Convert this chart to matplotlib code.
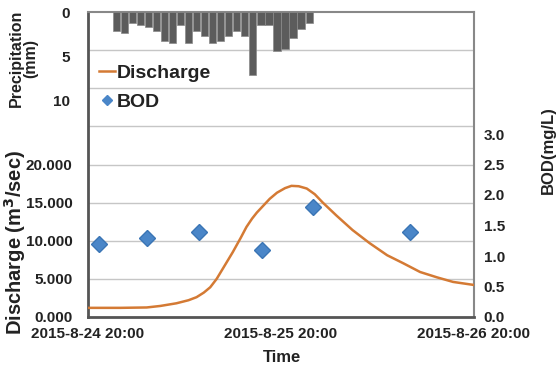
import matplotlib
matplotlib.use("Agg")
import matplotlib.pyplot as plt
from matplotlib.lines import Line2D

plt.rcParams['font.family'] = ['Liberation Sans', 'DejaVu Sans']

# ---- data ----
x_tick_hours = [0, 24, 48]
x_tick_labels = ["2015-8-24 20:00", "2015-8-25 20:00", "2015-8-26 20:00"]

discharge_t = [0, 4, 7.3, 9, 11, 12.5, 13.5, 14.4, 15.2, 16, 16.8, 18, 19, 19.7, 20.4,
               21, 21.8, 22.6, 23.5, 24.5, 25.3, 26.2, 27.2, 28.2, 29.2, 30.9, 32.9,
               35, 37.2, 39.2, 41.3, 43.4, 45.4, 48]
discharge_v = [1200, 1200, 1250, 1450, 1800, 2200, 2600, 3200, 3900, 5000, 6400, 8500,
               10400, 11800, 12900, 13700, 14600, 15500, 16300, 16900, 17200, 17150,
               16850, 16100, 15000, 13300, 11400, 9700, 8100, 7050, 5900, 5200, 4600,
               4200]

bod_t = [1.4, 7.3, 13.8, 21.6, 28.0, 40.0]
bod_v = [1.20, 1.29, 1.39, 1.10, 1.80, 1.39]

precip_t = list(range(3, 28))
precip_v = [2.2, 2.4, 1.2, 1.5, 1.7, 2.1, 3.3, 3.5, 1.5, 3.5, 2.1, 2.7, 3.5,
            3.3, 2.7, 2.1, 2.7, 7.1, 1.5, 1.5, 4.4, 4.2, 2.9, 1.9, 1.2]

q_ticks = [0, 5000, 10000, 15000, 20000]
q_labels = ["0.000", "5.000", "10.000", "15.000", "20.000"]
grid_levels = [5000, 10000, 15000, 20000, 25000, 30000, 35000]
bod_ticks = [0.0, 0.5, 1.0, 1.5, 2.0, 2.5, 3.0]
p_ticks = [0, 5, 10]

# ---- figure ----
W, H = 558, 373
fig = plt.figure(figsize=(W / 100, H / 100), dpi=100)
L, R, T, B = 88, 474, 12, 317
ax = fig.add_axes([L / W, 1 - B / H, (R - L) / W, (B - T) / H])

ax.set_xlim(0, 48)
ax.set_ylim(0, 40000)
ax.set_yticks(q_ticks)
ax.set_yticklabels(q_labels)
ax.set_xticks(x_tick_hours)
ax.set_xticklabels(x_tick_labels)
ax.tick_params(axis='both', which='both', length=0, labelsize=11, colors='#222222')
ax.tick_params(axis='x', pad=7)
ax.tick_params(axis='y', pad=11)
for lab in ax.get_xticklabels() + ax.get_yticklabels():
    lab.set_fontweight('bold')

for side in ['left', 'bottom']:
    ax.spines[side].set_color('#555555')
    ax.spines[side].set_linewidth(2)
for side in ['top', 'right']:
    ax.spines[side].set_color('#888888')
    ax.spines[side].set_linewidth(1.5)

for g in grid_levels:
    gl = ax.axhline(g, color='#c6c6c6', linewidth=1.0, zorder=1)
    gl.set_snap(True)

line, = ax.plot(discharge_t, discharge_v, color='#D47A34', linewidth=1.8, zorder=3)

# BOD axis
axb = ax.twinx()
axb.set_ylim(0, 5)
axb.set_yticks(bod_ticks)
axb.set_yticklabels([f"{v:.1f}" for v in bod_ticks])
axb.tick_params(axis='y', length=0, labelsize=11, colors='#222222', pad=7)
for lab in axb.get_yticklabels():
    lab.set_fontweight('bold')
for s in axb.spines.values():
    s.set_visible(False)
axb.plot(bod_t, bod_v, linestyle='none', marker='D', markersize=8,
         color='#4A86C8', markeredgecolor='#3A75B5', zorder=4)

# precipitation axis (inverted, left labels)
axp = ax.twinx()
axp.set_ylim(34.5, 0)
axp.yaxis.tick_left()
axp.set_yticks(p_ticks)
axp.tick_params(axis='y', length=0, labelsize=11, colors='#222222', pad=13)
for lab in axp.get_yticklabels():
    lab.set_fontweight('bold')
for s in axp.spines.values():
    s.set_visible(False)
axp.bar([t + 0.5 for t in precip_t], precip_v, width=0.9, color='#5c5c5c',
        edgecolor='#8a8a8a', linewidth=0.5, zorder=2)

# labels
fig.text(24 / W, 1 - 58 / H, "Precipitation\n(mm)", rotation=90, ha='center',
         va='center', fontsize=11.5, fontweight='bold', color='#222222', linespacing=0.95)
fig.text(15 / W, 1 - 243 / H, "Discharge (m$^\\mathbf{3}$/sec)", rotation=90,
         ha='center', va='center', fontsize=14.5, fontweight='bold', color='#222222')
fig.text(548 / W, 1 - 150 / H, "BOD(mg/L)", rotation=90, ha='center', va='center',
         fontsize=12, fontweight='bold', color='#222222')
fig.text(282 / W, 1 - 357 / H, "Time", ha='center', va='center', fontsize=12,
         fontweight='bold', color='#222222')

# legend
handles = [Line2D([0], [0], color='#D47A34', linewidth=1.8),
           Line2D([0], [0], linestyle='none', marker='D', markersize=5,
                  color='#4A86C8')]
leg = ax.legend(handles, ["Discharge", "BOD"], loc='upper left',
                bbox_to_anchor=(99 / W, 1 - 64 / H), bbox_transform=fig.transFigure,
                frameon=False, handlelength=0.8, handletextpad=0.1,
                labelspacing=0.6, borderaxespad=0, borderpad=0,
                prop={'size': 14, 'weight': 'bold'})
for t in leg.get_texts():
    t.set_color('#222222')

fig.savefig("out.png", dpi=100)
